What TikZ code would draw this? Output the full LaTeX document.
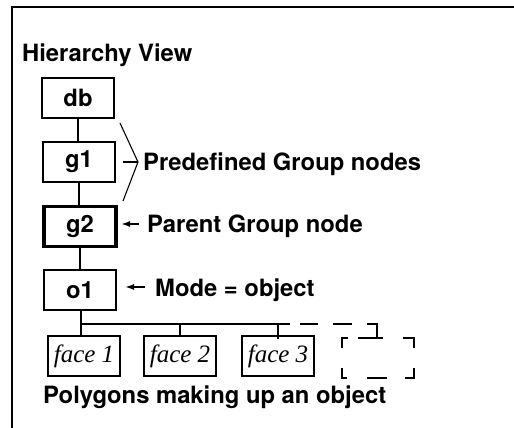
\documentclass[tikz,border=0pt]{standalone}
\usepackage{fontspec}
\usetikzlibrary{arrows.meta,calc}
\newfontfamily\hvfont{TeX Gyre Heros}
\newfontfamily\tmfont{Liberation Serif}
\begin{document}
\begin{tikzpicture}[x=1pt,y=-1pt,
  boxnode/.style={draw,line width=2.2pt,minimum width=72pt,minimum height=40pt,inner sep=0pt,font=\hvfont\bfseries\fontsize{23.8}{26}\selectfont},
  facenode/.style={draw,line width=2pt,minimum width=72pt,minimum height=40pt,inner sep=0pt,font=\tmfont\itshape\fontsize{25}{27}\selectfont},
  lbl/.style={anchor=base west,inner sep=0pt,font=\hvfont\bfseries\fontsize{23.8}{26}\selectfont},
  conn/.style={line width=2.2pt},
  ptr/.style={line width=1.6pt,-{Latex[length=9pt,width=6pt]}},
  dsh/.style={line width=2.2pt}]
\useasboundingbox (0,0) rectangle (514,428);
% frame
\coordinate (fr1) at (514,7);
\coordinate (fr2) at (12,7);
\coordinate (fr3) at (12,428);
\draw[line width=2.4pt] (fr1) -- (fr2) -- (fr3);
\node[lbl] (title) at (22,62) {Hierarchy View};
% hierarchy boxes
\node[boxnode] (db) at (78,98) {db};
\node[boxnode] (g1) at (79,162) {g1};
\node[boxnode,line width=3.2pt] (g2) at (80,226.5) {g2};
\node[boxnode] (o1) at (80,290) {o1};
\draw[conn] (db.south) -- (db.south |- g1.north);
\draw[conn] (g1.south) -- (g1.south |- g2.north);
\draw[conn] (g2.south) -- (g2.south |- o1.north);
% bracket
\coordinate (b1) at (120,123);
\coordinate (b2) at (138,162);
\coordinate (b3) at (123,201);
\coordinate (bt) at (123,162);
\draw[line width=1.1pt] (b1) -- (b2) -- (b3);
\draw[line width=1.6pt] (bt) -- (b2);
\node[lbl] (pre) at (143,170) {Predefined Group nodes};
% parent arrow
\coordinate (pa) at (139,224);
\coordinate (pb) at (121,224);
\draw[ptr] (pa) -- (pb);
\node[lbl] (par) at (147,232) {Parent Group node};
% mode arrow
\coordinate (ma) at (145,287);
\coordinate (mb) at (125,287);
\draw[ptr] (ma) -- (mb);
\node[lbl] (mode) at (155,296) {Mode = object};
% faces
\node[facenode] (f1) at (84,356) {face 1};
\node[facenode] (f2) at (180,356) {face 2};
\node[facenode] (f3) at (278,356) {face 3};
\node[minimum width=72pt,minimum height=40pt,inner sep=0pt] (f4) at (378,358) {};
% bus
\coordinate (bus0) at (81,324);
\coordinate (bus1) at (290,324);
\coordinate (o1b) at (81,310);
\draw[conn] (o1b) -- (bus0) -- (bus1);
\draw[conn] (bus0) -- (bus0 |- f1.north);
\draw[conn] (f2.north |- bus0) -- (f2.north);
\draw[conn] (f3.north |- bus0) -- ($(f3.north)+(0,4)$);
% dashed bus continuation
\coordinate (d1a) at (300,324); \coordinate (d1b) at (318,324);
\coordinate (d2a) at (333,324); \coordinate (d2b) at (352,324);
\coordinate (d3a) at (367,324); \coordinate (d3b) at (377,324);
\draw[dsh] (d1a) -- (d1b);
\draw[dsh] (d2a) -- (d2b);
\draw[dsh] (d3a) -- (d3b) -- (d3b |- f4.north);
% dashed box (corners and middle dashes)
\draw[dsh] ($(f4.north west)+(0,10)$) -- (f4.north west) -- ++(6,0);
\draw[dsh] ($(f4.north east)+(0,10)$) -- (f4.north east) -- ++(-11,0);
\draw[dsh] ($(f4.south west)+(0,-10)$) -- (f4.south west) -- ++(5,0);
\draw[dsh] ($(f4.south east)+(0,-10)$) -- (f4.south east) -- ++(-9,0);
\draw[dsh] ($(f4.north west)+(16,0)$) -- ++(25,0);
\draw[dsh] ($(f4.south west)+(25,0)$) -- ++(20,0);
\node[lbl] (poly) at (43,403) {Polygons making up an object};
\end{tikzpicture}
\end{document}
